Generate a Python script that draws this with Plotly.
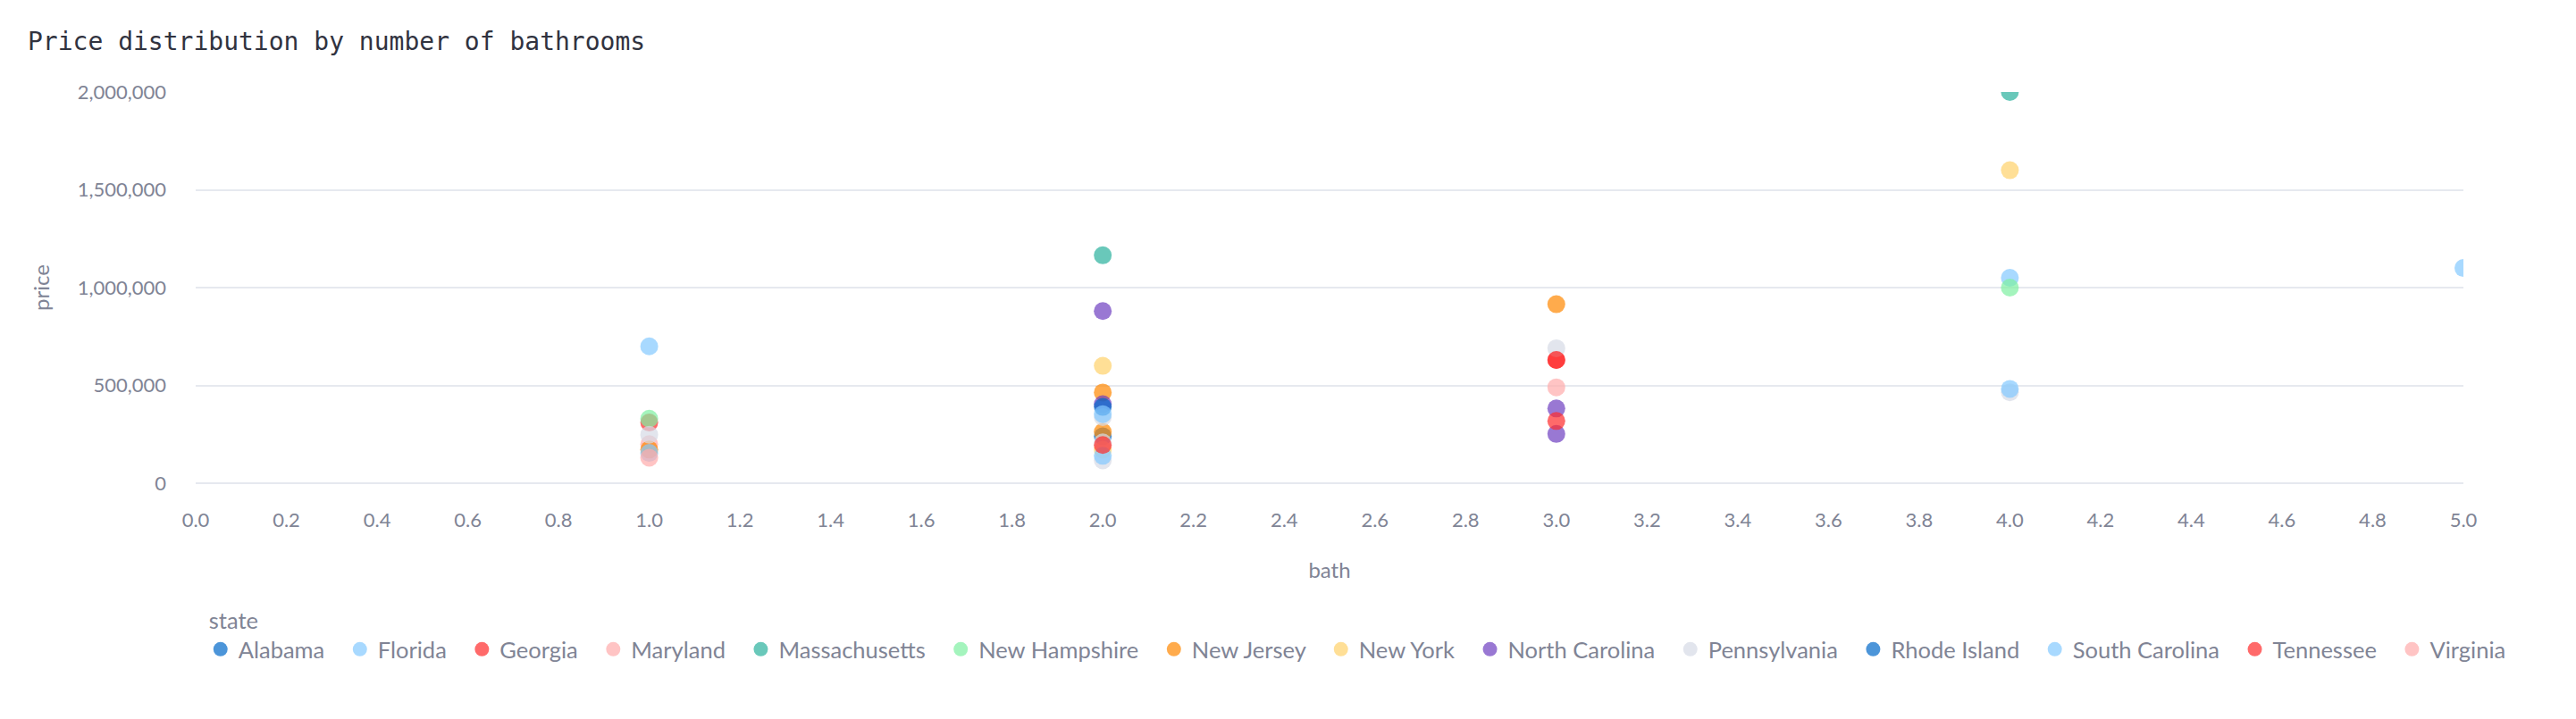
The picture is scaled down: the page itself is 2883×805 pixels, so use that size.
import plotly.graph_objects as go

# ---- data ----
states = ["Alabama", "Florida", "Georgia", "Maryland", "Massachusetts", "New Hampshire",
          "New Jersey", "New York", "North Carolina", "Pennsylvania", "Rhode Island",
          "South Carolina", "Tennessee", "Virginia"]
colors = ["#0068c9", "#83c9ff", "#ff2b2b", "#ffabab", "#29b09d", "#7defa1",
          "#ff8700", "#ffd16a", "#6d3fc0", "#d5dae5", "#0068c9", "#83c9ff",
          "#ff2b2b", "#ffabab"]

bath = {
    "Alabama": [2],
    "Florida": [1, 4, 5],
    "Georgia": [1, 3],
    "Maryland": [1, 3],
    "Massachusetts": [2, 4],
    "New Hampshire": [1, 4],
    "New Jersey": [1, 2, 2, 3],
    "New York": [2, 2, 4],
    "North Carolina": [2, 2, 3, 3],
    "Pennsylvania": [1, 2, 2, 2, 3, 4],
    "Rhode Island": [2],
    "South Carolina": [1, 2, 2, 4],
    "Tennessee": [2, 3, 3],
    "Virginia": [1],
}
price = {
    "Alabama": [240000],
    "Florida": [700000, 1050000, 1100000],
    "Georgia": [310000, 630000],
    "Maryland": [200000, 490000],
    "Massachusetts": [1165000, 2000000],
    "New Hampshire": [330000, 1000000],
    "New Jersey": [172000, 464000, 262000, 915000],
    "New York": [600000, 171000, 1600000],
    "North Carolina": [880000, 404000, 382000, 252000],
    "Pennsylvania": [248000, 338000, 209000, 117000, 690000, 465000],
    "Rhode Island": [390000],
    "South Carolina": [155000, 353000, 140000, 482000],
    "Tennessee": [195000, 630000, 318000],
    "Virginia": [130000],
}

x_ticks = [i / 5 for i in range(26)]
y_ticks = [0, 500000, 1000000, 1500000, 2000000]

GRAY = "#808495"
FONT = "Lato, 'Source Sans Pro', sans-serif"
GAP = "\u00a0"  # extra spacing after legend labels

FIG_W, FIG_H = 2867, 789  # page has an 8px body margin

fig = go.Figure()
for s, c in zip(states, colors):
    fig.add_trace(go.Scatter(
        x=bath[s], y=price[s], mode="markers", name=s + GAP,
        marker=dict(size=20, color=c, opacity=0.7, line=dict(width=0)),
        cliponaxis=True,
    ))

fig.update_layout(
    width=FIG_W, height=FIG_H,
    margin=dict(l=211, r=118, t=95, b=256),
    paper_bgcolor="white", plot_bgcolor="white",
    font=dict(family=FONT, color=GRAY, size=22),
    title=dict(text="Price distribution by number of bathrooms",
               font=dict(family="'DejaVu Sans Mono', monospace", size=28, color="#31333F"),
               x=23 / FIG_W, xanchor="left", xref="container",
               y=1 - 38 / FIG_H, yanchor="middle", yref="container"),
    showlegend=True,
    legend=dict(
        orientation="h", x=-0.0001, xanchor="left", y=-0.296, yanchor="top",
        title=dict(text="\u00a0\u00a0state", side="top", font=dict(size=25.5, color=GRAY)),
        font=dict(size=25.5, color=GRAY),
        itemsizing="trace",
        tracegroupgap=0,
        indentation=8,
    ),
)
fig.update_xaxes(
    range=[0, 5], tickvals=x_ticks, tickformat=".1f",
    showgrid=False, zeroline=False, showline=False, ticks="",
    ticklabelstandoff=26,
    tickfont=dict(size=22, color=GRAY),
    title=dict(text="bath", font=dict(size=24, color=GRAY), standoff=36),
)
fig.update_yaxes(
    range=[0, 2000000], tickvals=y_ticks, tickformat=",d",
    showgrid=True, gridcolor="#e6e9ef", gridwidth=2,
    zeroline=True, zerolinecolor="#e6e9ef", zerolinewidth=2,
    showline=False, ticks="",
    ticklabelstandoff=32,
    tickfont=dict(size=22, color=GRAY),
    title=dict(text="price", font=dict(size=24, color=GRAY), standoff=24),
)

fig.write_html("out.html")
